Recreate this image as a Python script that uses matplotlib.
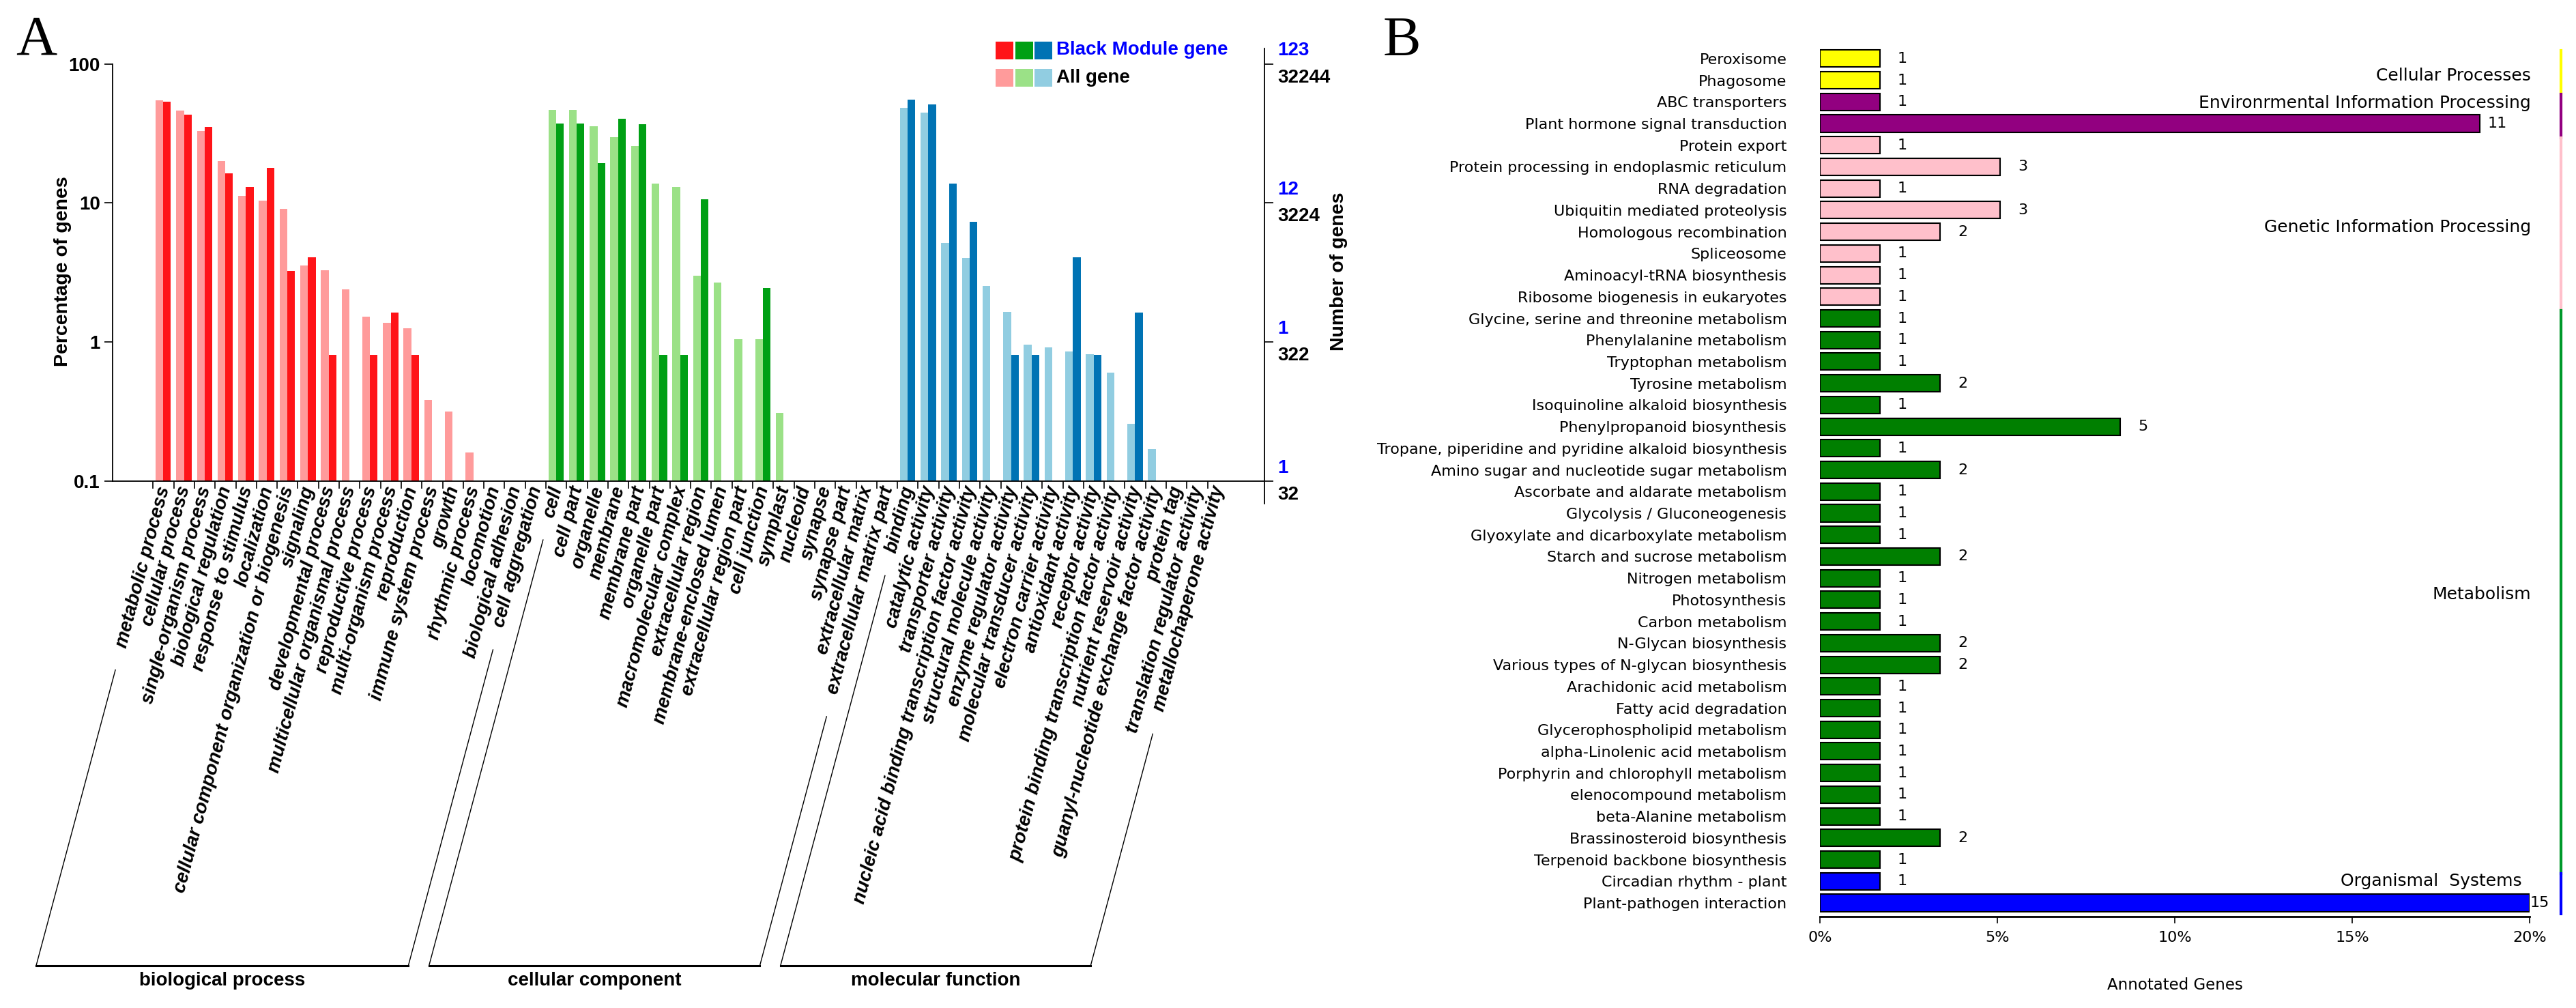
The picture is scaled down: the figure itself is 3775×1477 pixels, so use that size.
import numpy as np
import matplotlib
matplotlib.use('Agg')
import matplotlib.pyplot as plt
from matplotlib.patches import Rectangle
from matplotlib.lines import Line2D
import matplotlib.transforms as mtransforms
from matplotlib.ticker import NullLocator

plt.rcParams['font.family'] = ['Liberation Sans', 'DejaVu Sans']

# ---------------- Panel A data (GO) ----------------
bp_terms = ["metabolic process", "cellular process", "single-organism process",
            "biological regulation", "response to stimulus", "localization",
            "cellular component organization or biogenesis", "signaling",
            "developmental process", "multicellular organismal process",
            "reproductive process", "multi-organism process", "reproduction",
            "immune system process", "growth", "rhythmic process", "locomotion",
            "biological adhesion", "cell aggregation"]
cc_terms = ["cell", "cell part", "organelle", "membrane", "membrane part",
            "organelle part", "macromolecular complex", "extracellular region",
            "membrane-enclosed lumen", "extracellular region part", "cell junction",
            "symplast", "nucleoid", "synapse", "synapse part", "extracellular matrix",
            "extracellular matrix part"]
mf_terms = ["binding", "catalytic activity", "transporter activity",
            "nucleic acid binding transcription factor activity",
            "structural molecule activity", "enzyme regulator activity",
            "molecular transducer activity", "electron carrier activity",
            "antioxidant activity", "receptor activity",
            "protein binding transcription factor activity",
            "nutrient reservoir activity", "guanyl-nucleotide exchange factor activity",
            "protein tag", "translation regulator activity", "metallochaperone activity"]

# percentage of genes (All gene / Black Module gene); None = no bar
bp_all = [54.6, 46.2, 32.8, 19.9, 11.2, 10.4, 9.07, 3.54, 3.27, 2.39, 1.52, 1.37, 1.26,
          0.384, 0.315, 0.161, None, None, None]
bp_module = [53.7, 43.1, 35.0, 16.3, 13.0, 17.9, 3.25, 4.07, 0.813, None, 0.813, 1.63,
             0.813, None, None, None, None, None, None]
cc_all = [46.4, 46.4, 35.4, 29.8, 25.5, 13.8, 13.0, 3.01, 2.69, 1.05, 1.05, 0.311,
          None, None, None, None, None]
cc_module = [37.4, 37.4, 19.4, 40.3, 36.6, 0.813, 0.813, 10.6, None, None, 2.44, None,
             None, None, None, None, None]
mf_all = [48.5, 44.4, 5.14, 4.03, 2.53, 1.65, 0.953, 0.912, 0.855, 0.819, 0.605, 0.257,
          0.170, None, None, None]
mf_module = [55.2, 50.9, 13.8, 7.31, None, 0.813, 0.813, None, 4.07, 0.813, None, 1.63,
             None, None, None, None]

group_names = ["biological process", "cellular component", "molecular function"]
module_colors = ["#FF1418", "#00A014", "#0073B4"]
all_colors = ["#FF9B9B", "#9BE187", "#91CDE1"]

yticks_pct = [0.1, 1, 10, 100]
ytick_labels = ["0.1", "1", "10", "100"]
right_module_labels = ["1", "1", "12", "123"]
right_all_labels = ["32", "322", "3224", "32244"]

# ---------------- Panel B data (KEGG) ----------------
kegg_terms = ["Peroxisome", "Phagosome", "ABC transporters", "Plant hormone signal transduction",
              "Protein export", "Protein processing in endoplasmic reticulum", "RNA degradation",
              "Ubiquitin mediated proteolysis", "Homologous recombination", "Spliceosome",
              "Aminoacyl-tRNA biosynthesis", "Ribosome biogenesis in eukaryotes",
              "Glycine, serine and threonine metabolism", "Phenylalanine metabolism",
              "Tryptophan metabolism", "Tyrosine metabolism", "Isoquinoline alkaloid biosynthesis",
              "Phenylpropanoid biosynthesis",
              "Tropane, piperidine and pyridine alkaloid biosynthesis",
              "Amino sugar and nucleotide sugar metabolism", "Ascorbate and aldarate metabolism",
              "Glycolysis / Gluconeogenesis", "Glyoxylate and dicarboxylate metabolism",
              "Starch and sucrose metabolism", "Nitrogen metabolism", "Photosynthesis",
              "Carbon metabolism", "N-Glycan biosynthesis", "Various types of N-glycan biosynthesis",
              "Arachidonic acid metabolism", "Fatty acid degradation",
              "Glycerophospholipid metabolism", "alpha-Linolenic acid metabolism",
              "Porphyrin and chlorophyll metabolism", "elenocompound metabolism",
              "beta-Alanine metabolism", "Brassinosteroid biosynthesis",
              "Terpenoid backbone biosynthesis", "Circadian rhythm - plant",
              "Plant-pathogen interaction"]
kegg_counts = [1, 1, 1, 11, 1, 3, 1, 3, 2, 1, 1, 1, 1, 1, 1, 2, 1, 5, 1, 2, 1, 1, 1, 2, 1, 1,
               1, 2, 2, 1, 1, 1, 1, 1, 1, 1, 2, 1, 1, 15]
kegg_percent = [1.69, 1.69, 1.69, 18.6, 1.69, 5.08, 1.69, 5.08, 3.39, 1.69, 1.69, 1.69, 1.69,
                1.69, 1.69, 3.39, 1.69, 8.47, 1.69, 3.39, 1.69, 1.69, 1.69, 3.39, 1.69, 1.69,
                1.69, 3.39, 3.39, 1.69, 1.69, 1.69, 1.69, 1.69, 1.69, 1.69, 3.39, 1.69, 1.69,
                20.0]
kegg_class_names = ["Cellular Processes", "Environrmental Information Processing",
                    "Genetic Information Processing", "Metabolism", "Organismal  Systems"]
kegg_class_sizes = [2, 2, 8, 26, 2]
kegg_bar_colors = ["#FFFF00", "#920080", "#FFC0CB", "#007F00", "#0000FF"]
kegg_strip_colors = ["#FFFF00", "#920080", "#FFC0CB", "#00992B", "#0000FF"]
kegg_xticks = [0, 5, 10, 15, 20]
kegg_xticklabels = ["0%", "5%", "10%", "15%", "20%"]

# ---------------- Figure ----------------
W, H = 3775, 1477
fig = plt.figure(figsize=(W / 100, H / 100), dpi=100)
PX = 0.72  # points per pixel

# ---- Panel A ----
axA = fig.add_axes([165 / W, 1 - 738 / H, 1688 / W, 667 / H])
axA.set_yscale('log')
axA.set_xlim(-1.96, 53.75)
axA.set_ylim(0.0689, 128.96)

terms_all = bp_terms + cc_terms + mf_terms
groups = [(bp_terms, bp_all, bp_module), (cc_terms, cc_all, cc_module),
          (mf_terms, mf_all, mf_module)]
start = 0
for g, (terms, av, mv) in enumerate(groups):
    xa = [start + j + 0.116 for j, v in enumerate(av) if v is not None]
    ha_ = [v - 0.1 for v in av if v is not None]
    xm = [start + j + 0.49 for j, v in enumerate(mv) if v is not None]
    hm = [v - 0.1 for v in mv if v is not None]
    axA.bar(xa, ha_, bottom=0.1, width=0.374, align='edge', color=all_colors[g], lw=0)
    axA.bar(xm, hm, bottom=0.1, width=0.37, align='edge', color=module_colors[g], lw=0)
    start += len(terms)

axA.spines['top'].set_visible(False)
axA.spines['bottom'].set_position(('data', 0.1))
axA.spines['left'].set_bounds(0.1, 100)
for s in ['left', 'bottom', 'right']:
    axA.spines[s].set_linewidth(1.3)

axA.set_xticks(np.arange(len(terms_all)))
axA.set_xticklabels([])
axA.tick_params(axis='x', direction='out', length=8, width=1.2)
axA.yaxis.set_minor_locator(NullLocator())
axA.set_yticks(yticks_pct)
axA.set_yticklabels(ytick_labels)
axA.tick_params(axis='y', which='major', direction='out', length=9, width=1.2,
                left=True, right=True, labelleft=True, labelright=False, pad=4,
                labelsize=20)
for lbl in axA.get_yticklabels():
    lbl.set_fontweight('bold')

trans_r = mtransforms.blended_transform_factory(axA.transAxes, axA.transData)
for v, bl, kl in zip(yticks_pct, right_module_labels, right_all_labels):
    axA.annotate(bl, xy=(1, v), xycoords=trans_r, xytext=(19 * PX, 19.5 * PX),
                 textcoords='offset points', ha='left', va='center', fontsize=20,
                 fontweight='bold', color='#0000FF', annotation_clip=False)
    axA.annotate(kl, xy=(1, v), xycoords=trans_r, xytext=(19 * PX, -20 * PX),
                 textcoords='offset points', ha='left', va='center', fontsize=20,
                 fontweight='bold', color='black', annotation_clip=False)

LAB_OFF = 8
label_texts = []
for i, term in enumerate(terms_all):
    t = axA.annotate(term, xy=(i + 0.55, 0.1), xycoords='data',
                     xytext=(0, -LAB_OFF * PX), textcoords='offset points',
                     rotation=75, rotation_mode='anchor', ha='right', va='center',
                     fontsize=20, fontweight='bold', fontstyle='italic',
                     annotation_clip=False)
    label_texts.append(t)

fig.text(92 / W, 1 - 398 / H, "Percentage of genes", rotation=90, ha='center',
         va='center', fontsize=20.5, fontweight='bold')
fig.text(1962 / W, 1 - 398 / H, "Number of genes", rotation=90, ha='center',
         va='center', fontsize=20.5, fontweight='bold')

# legend
sq = 26
for k, x0 in enumerate([1459, 1488, 1516]):
    fig.add_artist(Rectangle((x0 / W, 1 - (61 + sq) / H), sq / W, sq / H,
                             transform=fig.transFigure, color=module_colors[k], lw=0))
    fig.add_artist(Rectangle((x0 / W, 1 - (101 + sq) / H), sq / W, sq / H,
                             transform=fig.transFigure, color=all_colors[k], lw=0))
fig.text(1548 / W, 1 - 73 / H, "Black Module gene", ha='left', va='center',
         fontsize=20, fontweight='bold', color='#0000FF')
fig.text(1548 / W, 1 - 114 / H, "All gene", ha='left', va='center',
         fontsize=20, fontweight='bold', color='black')

fig.text(23 / W, 1 - 79 / H, "A", ha='left', va='baseline', fontsize=60,
         family='Liberation Serif')
fig.text(2027 / W, 1 - 81 / H, "B", ha='left', va='baseline', fontsize=60,
         family='Liberation Serif')

# ---- Panel B ----
axB = fig.add_axes([2667 / W, 1 - 1343 / H, 1040 / W, 1273 / H])
rows = np.arange(len(kegg_terms))
bar_cols = []
for c, n in zip(kegg_bar_colors, kegg_class_sizes):
    bar_cols += [c] * n
axB.barh(rows, kegg_percent, height=0.79, color=bar_cols, edgecolor='black', lw=1.5)
axB.set_xlim(0, 20)
axB.set_ylim(39.63, -0.5)
axB.set_yticks(rows)
axB.set_yticklabels(kegg_terms, fontsize=16, family='DejaVu Sans')
axB.tick_params(axis='y', length=0, pad=35)
axB.set_xticks(kegg_xticks)
axB.set_xticklabels(kegg_xticklabels, fontsize=16, family='DejaVu Sans')
axB.tick_params(axis='x', direction='out', length=7, width=1.2, pad=8)
for s in ['top', 'right', 'left']:
    axB.spines[s].set_visible(False)
axB.spines['bottom'].set_linewidth(2.0)

xmaxB = axB.get_xlim()[1]
for r, (cnt, p) in enumerate(zip(kegg_counts, kegg_percent)):
    off = 29 if p >= xmaxB else 40
    axB.annotate(str(cnt), xy=(p, r), xytext=(off * PX, 0), textcoords='offset points',
                 ha='right', va='center', fontsize=16, family='DejaVu Sans',
                 annotation_clip=False)

transB = mtransforms.blended_transform_factory(axB.transAxes, axB.transData)
label_rows = [0.79, 2.05, 7.78, 24.76, 38.0]
label_x = [1.002, 1.002, 1.002, 1.002, 0.989]
r0 = 0
for k, (name, n) in enumerate(zip(kegg_class_names, kegg_class_sizes)):
    y0 = r0 - 0.35 if k > 0 else r0 - 0.38
    y1 = min(r0 + n - 1 + 0.65, 39.5)
    axB.add_line(Line2D([1.044, 1.044], [y0, y1], transform=transB,
                        color=kegg_strip_colors[k], lw=3, clip_on=False))
    axB.text(label_x[k], label_rows[k], name, transform=transB, ha='right', va='center',
             fontsize=18, family='DejaVu Sans')
    r0 += n

fig.text(3187 / W, 1 - 1443 / H, "Annotated Genes", ha='center', va='center',
         fontsize=16.5, family='DejaVu Sans')

# ---- Panel A group brackets ----
fig.canvas.draw()
renderer = fig.canvas.get_renderer()
tan75 = np.tan(np.deg2rad(75))
y_bot = H - 1415
start = 0
for g, terms in enumerate([bp_terms, cc_terms, mf_terms]):
    first, last = start, start + len(terms) - 1
    xb = []
    for idx in (first, last):
        bb = label_texts[idx].get_window_extent(renderer)
        ax_x, ax_y = axA.transData.transform((idx + 0.55, 0.1))
        ax_y -= LAB_OFF
        y_top = bb.y0 - 30
        x_top = ax_x - (ax_y - y_top) / tan75
        x_b = ax_x - (ax_y - y_bot) / tan75
        fig.add_artist(Line2D([x_top / W, x_b / W], [y_top / H, y_bot / H],
                              transform=fig.transFigure, color='black', lw=1.0))
        xb.append(x_b)
    fig.add_artist(Line2D([xb[0] / W, xb[1] / W], [y_bot / H, y_bot / H],
                          transform=fig.transFigure, color='black', lw=2.2))
    fig.text((xb[0] + xb[1]) / 2 / W, 1 - 1437 / H, group_names[g], ha='center',
             va='center', fontsize=20, fontweight='bold')
    start += len(terms)

fig.savefig("out.png", dpi=100)
